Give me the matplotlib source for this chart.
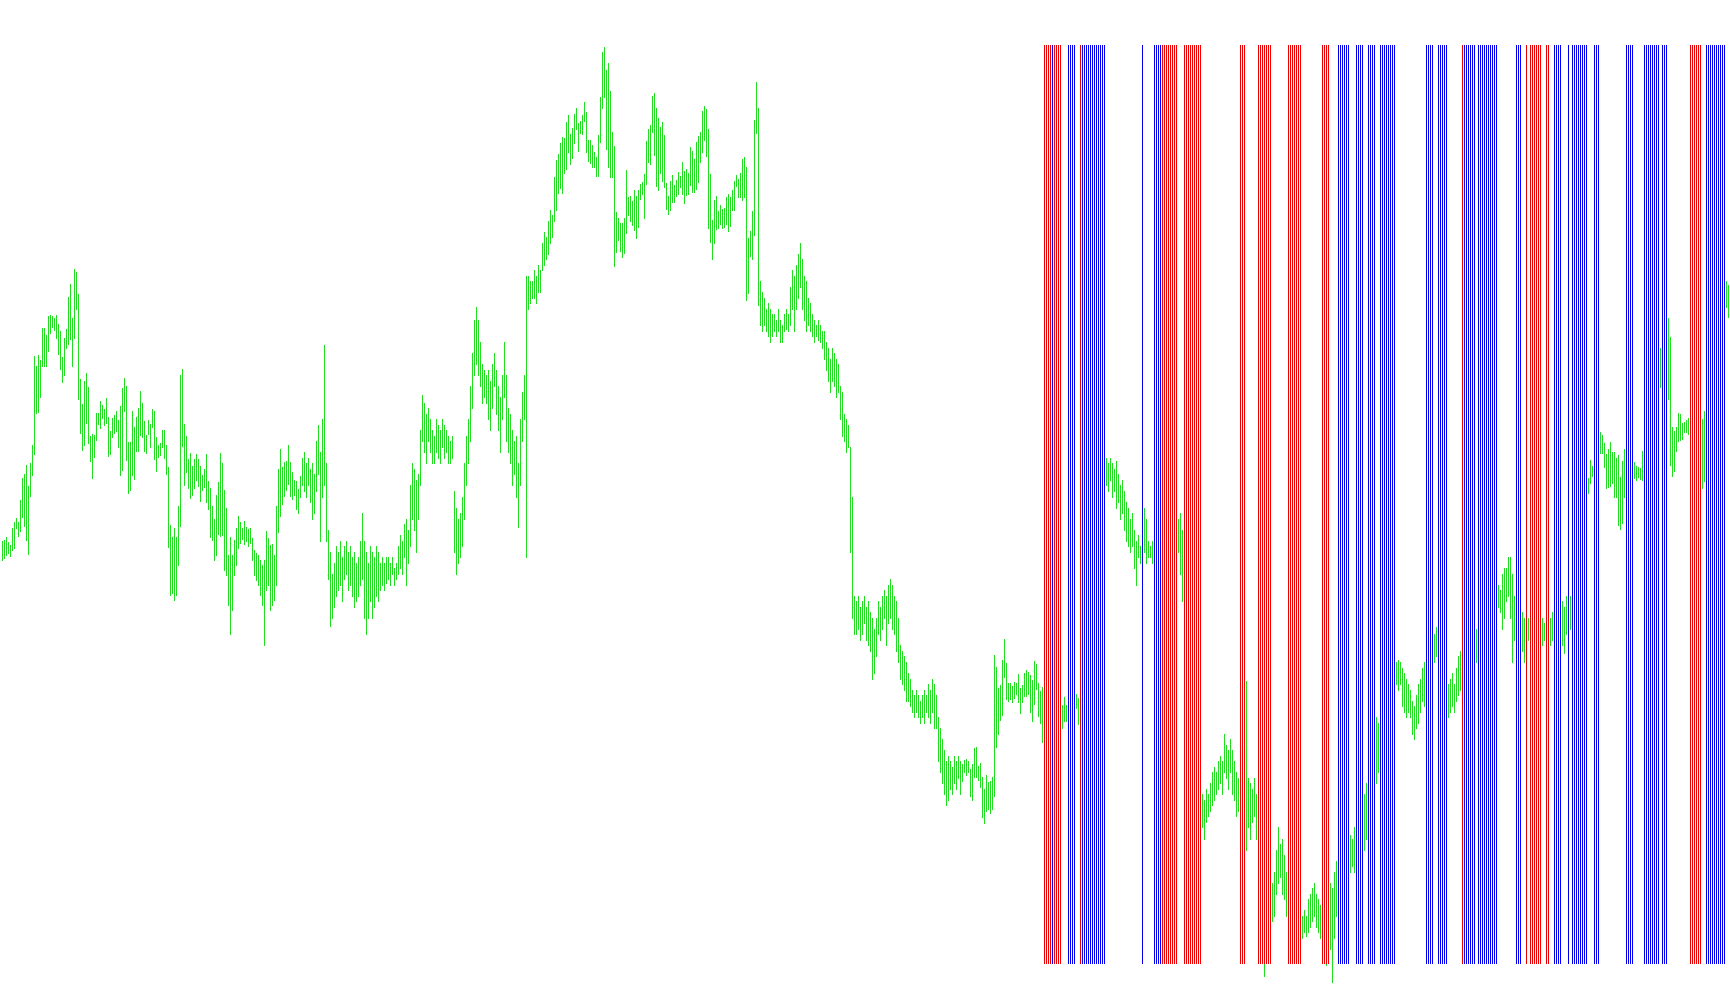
import matplotlib
matplotlib.use("Agg")
import matplotlib.pyplot as plt
import numpy as np

# bar highs / lows (price points), one value per bar
HIGH = [
    464, 465, 468, 463, 460, 477, 483, 487, 483, 505,
    527, 531, 540, 519, 542, 560, 649, 639, 650, 645,
    677, 677, 670, 689, 690, 689, 687, 690, 681, 674,
    648, 667, 676, 708, 721, 687, 736, 733, 711, 626,
    601, 624, 632, 618, 569, 571, 570, 592, 592, 604,
    600, 596, 607, 588, 574, 587, 590, 594, 585, 599,
    617, 627, 619, 563, 563, 594, 578, 588, 597, 614,
    602, 584, 570, 585, 581, 596, 594, 568, 560, 562,
    575, 575, 560, 538, 480, 468, 477, 468, 499, 630,
    636, 581, 569, 546, 552, 539, 546, 551, 546, 539,
    530, 536, 551, 524, 517, 499, 486, 510, 523, 552,
    542, 515, 497, 450, 468, 450, 465, 477, 489, 483,
    477, 484, 478, 476, 477, 467, 455, 452, 450, 445,
    440, 445, 474, 467, 460, 461, 450, 499, 536, 556,
    538, 543, 544, 560, 543, 533, 525, 524, 516, 529,
    547, 553, 542, 547, 536, 542, 531, 564, 580, 553,
    586, 660, 542, 475, 453, 431, 442, 459, 453, 464,
    448, 459, 464, 453, 459, 448, 453, 442, 448, 464,
    492, 464, 453, 442, 459, 453, 448, 459, 453, 442,
    448, 442, 448, 448, 442, 448, 437, 442, 459, 470,
    464, 481, 486, 475, 520, 542, 536, 525, 531, 575,
    610, 602, 591, 597, 586, 575, 569, 586, 580, 575,
    586, 580, 575, 569, 564, 569, 514, 497, 486, 492,
    508, 542, 569, 586, 619, 652, 685, 698, 685, 663,
    641, 635, 630, 635, 624, 641, 652, 635, 619, 608,
    630, 663, 630, 597, 591, 575, 564, 569, 542, 586,
    613, 630, 729, 729, 724, 724, 735, 729, 740, 735,
    762, 773, 768, 784, 795, 790, 828, 845, 851, 862,
    868, 867, 883, 890, 871, 877, 891, 897, 882, 884,
    890, 903, 893, 865, 865, 860, 853, 848, 870, 908,
    953, 958, 935, 942, 914, 873, 859, 793, 787, 782,
    782, 787, 835, 808, 809, 804, 815, 809, 815, 821,
    823, 831, 864, 876, 880, 909, 912, 897, 887, 878,
    883, 870, 822, 809, 824, 830, 820, 825, 833, 829,
    843, 834, 836, 832, 858, 854, 846, 863, 869, 873,
    894, 899, 896, 876, 831, 785, 805, 809, 794, 800,
    796, 797, 808, 811, 808, 815, 824, 830, 826, 832,
    846, 848, 838, 767, 774, 794, 885, 923, 897, 724,
    713, 707, 696, 702, 696, 691, 691, 685, 696, 685,
    680, 691, 696, 691, 718, 735, 729, 740, 751, 762,
    746, 729, 724, 707, 702, 691, 685, 680, 685, 680,
    674, 674, 663, 657, 646, 657, 652, 646, 641, 619,
    613, 591, 586, 580, 558, 508, 409, 404, 409, 398,
    404, 409, 398, 404, 393, 387, 376, 387, 404, 398,
    409, 415, 409, 420, 426, 420, 409, 404, 387, 360,
    354, 349, 343, 332, 326, 315, 310, 315, 310, 304,
    310, 315, 310, 321, 315, 326, 321, 310, 288, 277,
    266, 255, 244, 249, 244, 238, 249, 244, 249, 244,
    241, 245, 246, 244, 236, 241, 257, 258, 239, 242,
    228, 216, 230, 223, 224, 228, 350, 338, 317, 320,
    345, 366, 342, 322, 322, 319, 323, 322, 331, 317,
    320, 332, 335, 333, 330, 325, 344, 341, 322, 314,
    318, 305, 300, 310, 305, 300, 308, 303, 298, 302,
    300, 308, 300, 305, 309, 306, 312, 311, 307, 330,
    360, 380, 400, 420, 440, 460, 480, 500, 510, 525,
    535, 540, 547, 542, 547, 542, 536, 544, 531, 520,
    525, 514, 503, 497, 486, 492, 475, 464, 470, 459,
    462, 497, 486, 464, 459, 464, 460, 455, 458, 462,
    470, 475, 478, 472, 468, 474, 480, 483, 486, 492,
    475, 420, 390, 350, 320, 290, 260, 240, 225, 215,
    211, 205, 216, 211, 222, 233, 238, 233, 244, 249,
    244, 271, 260, 255, 266, 255, 244, 233, 227, 225,
    230, 228, 324, 227, 222, 216, 227, 211, 166, 144,
    122, 100, 111, 133, 122, 122, 133, 155, 178, 161,
    166, 150, 133, 120, 110, 105, 100, 104, 98, 95,
    89, 95, 89, 106, 111, 117, 122, 111, 106, 100,
    100, 95, 89, 100, 122, 117, 133, 144, 150, 155,
    160, 158, 165, 168, 170, 166, 178, 190, 195, 200,
    205, 211, 222, 235, 245, 255, 265, 288, 282, 300,
    310, 320, 325, 330, 335, 340, 342, 343, 345, 343,
    337, 332, 326, 321, 315, 304, 299, 310, 321, 326,
    337, 343, 350, 355, 360, 365, 371, 378, 360, 350,
    345, 340, 335, 321, 326, 332, 321, 337, 349, 354,
    355, 360, 365, 370, 372, 375, 378, 376, 380, 385,
    390, 395, 400, 405, 410, 415, 418, 420, 420, 415,
    431, 437, 437, 448, 448, 431, 409, 400, 398, 395,
    393, 387, 390, 387, 388, 386, 390, 385, 388, 386,
    387, 382, 385, 388, 387, 393, 395, 398, 400, 402,
    404, 398, 409, 405, 409, 420, 435, 450, 465, 480,
    495, 505, 515, 527, 545, 539, 545, 550, 560, 573,
    570, 562, 551, 556, 563, 553, 553, 547, 550, 528,
    544, 556, 550, 548, 545, 544, 543, 539, 538, 537,
    554, 565, 575, 585, 595, 605, 615, 630, 645, 657,
    665, 672, 680, 687, 668, 578, 574, 578, 592, 591,
    582, 583, 585, 587, 590, 592, 595, 590, 588, 590,
    586, 594, 620, 640, 660, 675, 690, 700, 705, 710,
    715, 720, 724, 720, 697,
]

LOW = [
    445, 447, 450, 452, 449, 455, 457, 477, 469, 474,
    488, 479, 465, 451, 509, 530, 551, 592, 593, 608,
    639, 639, 639, 654, 672, 678, 675, 667, 651, 636,
    623, 630, 657, 661, 666, 639, 667, 696, 606, 572,
    555, 560, 582, 562, 544, 527, 548, 565, 581, 577,
    587, 580, 582, 549, 551, 568, 572, 574, 558, 530,
    535, 594, 545, 512, 515, 530, 526, 554, 554, 570,
    568, 554, 552, 571, 558, 578, 546, 534, 548, 550,
    558, 547, 531, 458, 410, 412, 405, 410, 440, 479,
    559, 520, 533, 517, 507, 510, 517, 525, 519, 504,
    515, 518, 503, 496, 468, 465, 445, 450, 471, 469,
    470, 435, 430, 400, 371, 395, 430, 440, 457, 462,
    466, 461, 464, 459, 462, 445, 430, 425, 420, 410,
    400, 360, 415, 420, 395, 400, 405, 420, 473, 489,
    501, 509, 515, 521, 509, 506, 510, 496, 492, 508,
    520, 514, 508, 520, 503, 486, 492, 514, 531, 464,
    508, 520, 464, 426, 379, 387, 398, 409, 415, 420,
    404, 426, 431, 415, 420, 409, 398, 404, 409, 420,
    426, 387, 371, 387, 404, 387, 398, 409, 404, 415,
    420, 415, 422, 426, 420, 431, 420, 426, 431, 437,
    431, 448, 420, 442, 459, 486, 475, 453, 486, 520,
    564, 553, 542, 564, 553, 542, 542, 553, 547, 542,
    558, 547, 553, 542, 542, 547, 453, 431, 442, 448,
    459, 486, 520, 542, 564, 597, 630, 641, 630, 619,
    602, 608, 602, 586, 575, 597, 619, 591, 575, 553,
    586, 608, 564, 553, 542, 520, 531, 508, 478, 520,
    564, 586, 448, 696, 702, 707, 707, 702, 713, 713,
    735, 740, 746, 751, 762, 768, 784, 795, 812, 817,
    812, 832, 836, 853, 841, 847, 862, 876, 854, 872,
    871, 884, 853, 844, 842, 838, 838, 829, 829, 863,
    897, 908, 856, 838, 828, 828, 739, 753, 765, 754,
    748, 752, 772, 790, 784, 780, 775, 767, 778, 806,
    811, 787, 821, 843, 841, 873, 850, 819, 815, 832,
    824, 818, 796, 791, 795, 803, 803, 809, 811, 818,
    811, 802, 810, 811, 820, 813, 813, 816, 823, 843,
    853, 865, 849, 777, 763, 746, 762, 776, 777, 781,
    777, 778, 781, 774, 779, 795, 795, 819, 808, 808,
    805, 808, 705, 712, 749, 746, 770, 872, 700, 680,
    674, 680, 674, 669, 663, 669, 674, 669, 674, 663,
    663, 674, 676, 674, 680, 696, 674, 696, 707, 718,
    696, 685, 674, 680, 674, 669, 663, 669, 665, 663,
    657, 646, 635, 624, 613, 624, 619, 608, 613, 586,
    569, 564, 553, 558, 453, 387, 371, 371, 376, 365,
    371, 382, 365, 360, 354, 326, 332, 349, 371, 365,
    376, 387, 360, 382, 387, 376, 371, 354, 343, 326,
    321, 315, 304, 304, 299, 293, 288, 293, 288, 282,
    288, 282, 293, 288, 282, 293, 277, 277, 244, 233,
    222, 211, 200, 205, 216, 211, 222, 216, 227, 211,
    224, 233, 230, 233, 209, 205, 228, 228, 225, 218,
    188, 182, 194, 196, 192, 196, 209, 258, 271, 285,
    290, 328, 306, 304, 306, 303, 307, 311, 303, 292,
    303, 309, 309, 311, 293, 284, 301, 316, 289, 282,
    263, 270, 275, 280, 285, 278, 282, 280, 276, 279,
    277, 284, 284, 286, 290, 288, 294, 297, 281, 290,
    310, 330, 350, 370, 390, 410, 430, 450, 470, 480,
    495, 505, 520, 514, 525, 508, 514, 497, 503, 486,
    492, 475, 464, 459, 453, 459, 437, 420, 448, 442,
    445, 453, 442, 448, 448, 442, 440, 435, 438, 440,
    445, 450, 455, 448, 444, 450, 455, 458, 453, 431,
    404, 380, 340, 300, 270, 240, 215, 200, 190, 180,
    178, 166, 183, 189, 194, 200, 205, 211, 216, 222,
    211, 233, 227, 216, 233, 211, 205, 189, 194, 185,
    180, 190, 155, 178, 166, 183, 189, 166, 100, 67,
    56, 29, 56, 67, 78, 84, 89, 111, 122, 128,
    111, 106, 89, 80, 75, 70, 65, 68, 66, 64,
    67, 73, 69, 73, 78, 84, 89, 78, 73, 67,
    56, 51, 40, 45, 56, 23, 67, 89, 110, 115,
    120, 125, 130, 132, 133, 139, 133, 150, 160, 165,
    170, 155, 166, 190, 200, 210, 220, 222, 233, 260,
    270, 280, 285, 290, 295, 300, 305, 321, 315, 321,
    299, 293, 288, 293, 288, 271, 266, 277, 282, 293,
    304, 299, 310, 315, 320, 330, 343, 349, 320, 310,
    300, 300, 295, 288, 293, 299, 293, 304, 310, 315,
    320, 325, 330, 335, 338, 340, 342, 343, 345, 350,
    355, 360, 365, 370, 375, 380, 385, 390, 398, 393,
    376, 387, 404, 409, 387, 343, 365, 360, 358, 355,
    354, 343, 350, 365, 355, 352, 356, 350, 354, 358,
    360, 365, 360, 362, 360, 365, 365, 368, 370, 372,
    360, 352, 371, 370, 376, 385, 395, 410, 425, 440,
    455, 470, 480, 512, 522, 529, 525, 530, 540, 552,
    552, 538, 517, 518, 519, 522, 508, 508, 480, 476,
    482, 508, 520, 522, 524, 525, 527, 525, 528, 526,
    525, 535, 545, 555, 565, 575, 585, 595, 610, 618,
    625, 632, 640, 606, 540, 529, 534, 554, 564, 565,
    566, 573, 573, 571, 570, 568, 570, 565, 560, 555,
    517, 524, 560, 580, 600, 620, 640, 655, 665, 675,
    685, 690, 698, 688, 686,
]

# bars flagged by the signal (red = sell, blue = buy)
RED_BARS = [521, 522, 523, 524, 526, 527, 528, 529, 539,
            580, 581, 582, 583, 584, 585, 586, 587,
            591, 592, 593, 594, 595, 596, 597, 598, 599,
            619, 620, 621, 628, 629, 630, 631, 632, 633, 634,
            643, 644, 645, 646, 647, 648, 649, 660, 661, 662, 663,
            730, 762, 764, 765, 766, 767, 768, 769, 772, 773,
            844, 845, 846, 847, 848, 849]
BLUE_BARS = [525, 533, 534, 535, 536,
             540, 541, 542, 543, 544, 545, 546, 547, 548, 549, 550, 551,
             570, 576, 577, 578, 579,
             668, 669, 670, 671, 672, 673, 677, 678, 679, 680,
             683, 684, 685, 686, 689, 690, 691, 692, 693, 694, 695, 696,
             712, 713, 714, 715, 718, 719, 720, 721, 722,
             731, 732, 733, 734, 735, 736,
             738, 739, 740, 741, 742, 743, 744, 745, 746, 747,
             757, 758, 759, 776, 777, 778, 779, 783,
             785, 786, 787, 788, 789, 790, 791, 792, 796, 797, 798,
             812, 813, 814, 815, 821, 822, 823, 824, 825, 826, 827, 828,
             830, 831, 832, 852, 853, 854, 855, 856, 857, 858, 859, 860, 861]

SIGNAL_TOP = 960
SIGNAL_BOTTOM = 42

assert len(HIGH) == len(LOW)

W, H, DPI = 1730, 1005, 100
px = 72.0 / DPI  # one pixel in points

fig = plt.figure(figsize=(W / DPI, H / DPI), dpi=DPI)
fig.patch.set_facecolor("white")
ax = fig.add_axes([0, 0, 1, 1])

x = np.arange(len(HIGH))
ax.vlines(x, LOW, HIGH, colors="#22dd22", linewidth=px, antialiased=False, zorder=2)
ax.vlines(RED_BARS, SIGNAL_BOTTOM, SIGNAL_TOP, colors="#ee0000", linewidth=px,
          antialiased=False, zorder=3)
ax.vlines(BLUE_BARS, SIGNAL_BOTTOM, SIGNAL_TOP, colors="#0000ee", linewidth=px,
          antialiased=False, zorder=3)

ax.set_xlim(-0.75, len(HIGH) - 0.75)
ax.set_ylim(0, H)
ax.axis("off")

fig.savefig("out.png", dpi=DPI, facecolor="white")
